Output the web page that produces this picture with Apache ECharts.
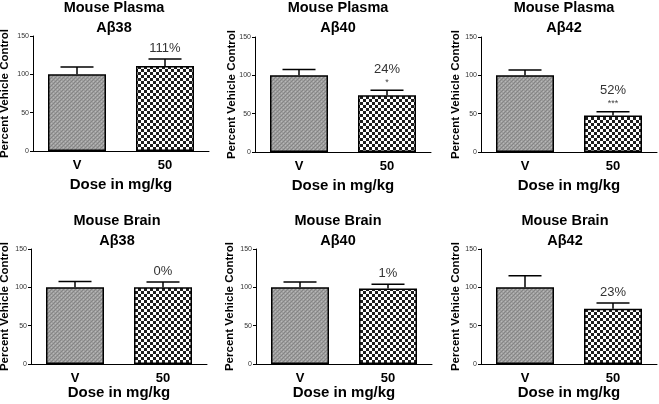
<!DOCTYPE html>
<html><head><meta charset="utf-8">
<script src="https://cdn.jsdelivr.net/npm/echarts@6/dist/echarts.min.js"></script>
<style>html,body{margin:0;padding:0;background:#fff}#c{width:659px;height:404px}</style>
</head><body><div id="c"></div>
<script>
// ---- data ----
const categories = ['V', '50'];
const titleLine1 = ['Mouse Plasma', 'Mouse Plasma', 'Mouse Plasma', 'Mouse Brain', 'Mouse Brain', 'Mouse Brain'];
const titleLine2 = ['Aβ38', 'Aβ40', 'Aβ42', 'Aβ38', 'Aβ40', 'Aβ42'];
const means = [[100, 111], [100, 74], [100, 47.5], [100, 100], [100, 98.5], [100, 72]];
const sems = [[9.5, 9], [7.5, 6.5], [7, 5], [7.5, 7], [7, 5.5], [15, 7.5]];
const pctLabels = [['', '111%'], ['', '24%'], ['', '52%'], ['', '0%'], ['', '1%'], ['', '23%']];
const sigLabels = [['', ''], ['', '*'], ['', '***'], ['', ''], ['', ''], ['', '']];
const yTicks = { min: 0, max: 150, interval: 50 };
const yName = 'Percent Vehicle Control';
const xName = 'Dose in mg/kg';

// ---- layout ----
const layout = [
  { left: 33, top: 36, tx: 114, ty: 8, yGap: 22, xGap: 26 },
  { left: 255, top: 37, tx: 338, ty: 8, yGap: 17, xGap: 26 },
  { left: 481, top: 37, tx: 564, ty: 8, yGap: 19, xGap: 26 },
  { left: 31, top: 249, tx: 117, ty: 221, yGap: 20, xGap: 21 },
  { left: 256, top: 249, tx: 338, ty: 221, yGap: 20, xGap: 21 },
  { left: 481, top: 249, tx: 565, ty: 221, yGap: 19, xGap: 21 }
];
const W = 176, H = 115;
const FONT = 'Arial, "Liberation Sans", sans-serif';

function makePattern(kind) {
  const c = document.createElement('canvas');
  const g = c.getContext('2d');
  if (kind === 'fine') {
    c.width = 4; c.height = 4;
    g.fillStyle = '#9e9e9e'; g.fillRect(0, 0, 4, 4);
    g.fillStyle = '#858585'; g.fillRect(0, 0, 1, 1); g.fillRect(2, 2, 1, 1); g.fillRect(1, 3, 1, 1); g.fillRect(3, 1, 1, 1);
    g.fillStyle = '#b8b8b8'; g.fillRect(1, 1, 1, 1); g.fillRect(3, 3, 1, 1);
  } else {
    c.width = 6; c.height = 6;
    g.fillStyle = '#ffffff'; g.fillRect(0, 0, 6, 6);
    g.fillStyle = '#1e1e1e'; g.fillRect(0, 0, 3, 3); g.fillRect(3, 3, 3, 3);
  }
  return { image: c, repeat: 'repeat' };
}
const patV = makePattern('fine');
const patD = makePattern('coarse');

const grid = [], xAxis = [], yAxis = [], series = [], graphic = [];
layout.forEach((L, i) => {
  grid.push({ left: L.left, top: L.top, width: W, height: H, containLabel: false, outerBoundsMode: 'none' });
  xAxis.push({
    type: 'category', gridIndex: i, data: categories,
    axisLine: { lineStyle: { color: '#000', width: 1 } },
    axisTick: { alignWithLabel: true, length: 4, lineStyle: { color: '#000' } },
    axisLabel: { color: '#000', fontWeight: 'bold', fontSize: 13, fontFamily: FONT, margin: 8 },
    name: xName, nameLocation: 'middle', nameGap: L.xGap, nameMoveOverlap: false,
    nameTextStyle: { color: '#000', fontWeight: 'bold', fontSize: 15, fontFamily: FONT }
  });
  yAxis.push({
    type: 'value', gridIndex: i, min: yTicks.min, max: yTicks.max, interval: yTicks.interval,
    splitLine: { show: false },
    axisLine: { show: true, lineStyle: { color: '#000', width: 1 } },
    axisTick: { show: true, length: 3, lineStyle: { color: '#000' } },
    axisLabel: { color: '#333', fontSize: 7, fontFamily: FONT, margin: 4 },
    name: yName, nameLocation: 'middle', nameGap: L.yGap, nameMoveOverlap: false,
    nameTextStyle: { color: '#000', fontWeight: 'bold', fontSize: 11.5, fontFamily: FONT }
  });
  series.push({
    type: 'bar', xAxisIndex: i, yAxisIndex: i, barWidth: 58, silent: true,
    data: means[i].map((v, j) => ({
      value: v,
      itemStyle: { color: j === 0 ? patV : patD, borderColor: '#000', borderWidth: 1.5 }
    }))
  });
  series.push({
    type: 'custom', xAxisIndex: i, yAxisIndex: i, silent: true, z: 5,
    data: means[i].map((v, j) => [j, v, sems[i][j]]),
    renderItem: function (params, api) {
      const j = params.dataIndex;
      const x = api.value(0), m = api.value(1), s = api.value(2);
      const b = api.coord([x, m]);
      const t = api.coord([x, m + s]);
      const children = [
        { type: 'line', shape: { x1: b[0], y1: b[1], x2: t[0], y2: t[1] }, style: { stroke: '#000', lineWidth: 1.5 } },
        { type: 'line', shape: { x1: t[0] - 16.5, y1: t[1], x2: t[0] + 16.5, y2: t[1] }, style: { stroke: '#000', lineWidth: 1.5 } }
      ];
      const sig = sigLabels[i][j], pct = pctLabels[i][j];
      if (sig) {
        children.push({ type: 'text', x: t[0], y: t[1] - 8, style: { text: sig, fill: '#444', fontSize: 9, fontFamily: FONT, align: 'center', verticalAlign: 'middle' } });
      }
      if (pct) {
        children.push({ type: 'text', x: t[0], y: t[1] - (sig ? 21 : 11), style: { text: pct, fill: '#333', fontSize: 13, fontFamily: FONT, align: 'center', verticalAlign: 'middle' } });
      }
      return { type: 'group', children: children };
    }
  });
  graphic.push({ type: 'text', x: L.tx, y: L.ty, style: { text: titleLine1[i], fill: '#000', font: 'bold 14.5px ' + FONT, align: 'center', verticalAlign: 'middle' } });
  graphic.push({ type: 'text', x: L.tx, y: L.ty + 20, style: { text: titleLine2[i], fill: '#000', font: 'bold 14.5px ' + FONT, align: 'center', verticalAlign: 'middle' } });
});

const chart = echarts.init(document.getElementById('c'), null, { renderer: 'canvas' });
chart.setOption({ animation: false, backgroundColor: '#fff', grid, xAxis, yAxis, series, graphic });
</script></body></html>
